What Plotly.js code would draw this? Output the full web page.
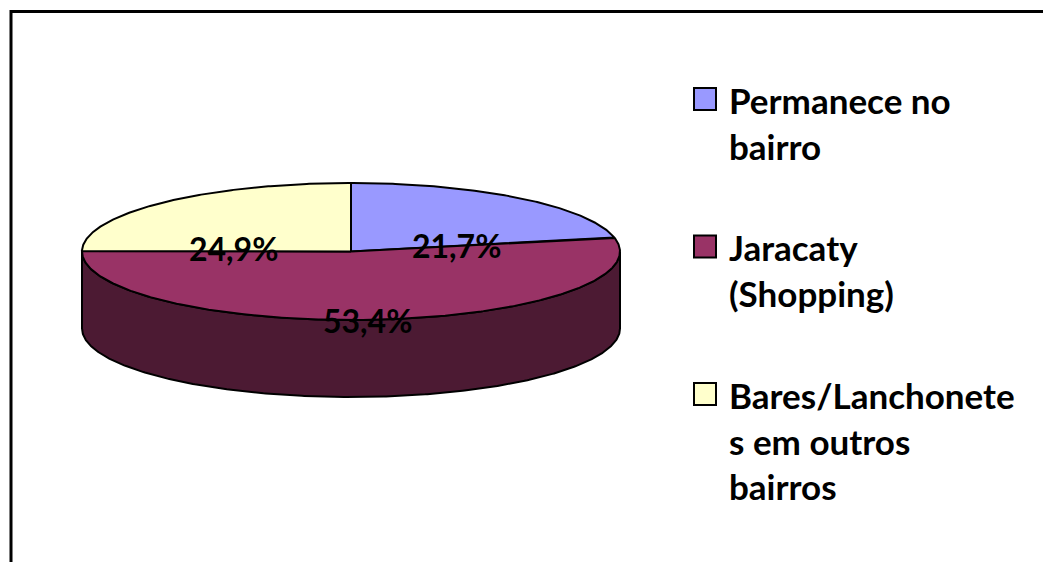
<!DOCTYPE html>
<html>
<head>
<meta charset="utf-8">
<script src="https://cdn.plot.ly/plotly-3.0.1.min.js"></script>
<style>html,body{margin:0;padding:0;background:#fff;}#chart{width:1043px;height:562px;}</style>
</head>
<body>
<div id="chart"></div>
<script>
// ---- data ----
const categories = ["Permanece no bairro", "Jaracaty (Shopping)", "Bares/Lanchonetes em outros bairros"];
const legendLabels = ["Permanece no<br>bairro", "Jaracaty<br>(Shopping)", "Bares/Lanchonete<br>s em outros<br>bairros"];
const percentages = [21.7, 53.4, 24.9];
const topColors = ["#9999FF", "#993366", "#FFFFCC"];
const sideColors = ["#4C4C80", "#4C1A33", "#7F7F66"];

// ---- geometry (styling) ----
const W = 1043, H = 562;
const CX = 351, CY = 251.5, A = 269, B = 68.5, DEPTH = 77;
const LINE = {color: "#000", width: 2};

function rim(tDeg, dz) {
  const t = tDeg * Math.PI / 180;
  return [CX + A * Math.sin(t), CY - B * Math.cos(t) + dz];
}
function arc(t1, t2, dz) {
  const pts = [];
  const n = Math.max(2, Math.ceil(Math.abs(t2 - t1) / 0.5));
  for (let i = 0; i <= n; i++) pts.push(rim(t1 + (t2 - t1) * i / n, dz));
  return pts;
}

const total = percentages.reduce((s, v) => s + v, 0);
const starts = [], ends = [];
let acc = 0;
percentages.forEach(v => { starts.push(acc / total * 360); acc += v; ends.push(acc / total * 360); });

const traces = [];
// side walls (front half only: 90..270 deg clockwise from top)
percentages.forEach((v, i) => {
  const s = Math.max(starts[i], 90), e = Math.min(ends[i], 270);
  if (e <= s) return;
  const top = arc(s, e, 0), bot = arc(e, s, DEPTH);
  const pts = top.concat(bot); pts.push(top[0]);
  traces.push({type: "scatter", mode: "lines", x: pts.map(p => p[0]), y: pts.map(p => p[1]),
    fill: "toself", fillcolor: sideColors[i], line: LINE, hoverinfo: "skip", showlegend: false});
});
// top faces
percentages.forEach((v, i) => {
  const pts = [[CX, CY]].concat(arc(starts[i], ends[i], 0)); pts.push([CX, CY]);
  traces.push({type: "scatter", mode: "lines", x: pts.map(p => p[0]), y: pts.map(p => p[1]),
    fill: "toself", fillcolor: topColors[i], line: LINE, hoverinfo: "text", text: categories[i], showlegend: false});
});
// legend markers
const LEG_X = 705, LEG_Y0 = 99, LEG_STEP = 147.5;
traces.push({type: "scatter", mode: "markers",
  x: categories.map(() => LEG_X), y: categories.map((c, i) => LEG_Y0 + i * LEG_STEP),
  marker: {symbol: "square", size: 22, color: topColors, line: {color: "#000", width: 2}},
  text: categories, hoverinfo: "text", showlegend: false});

const annotations = [];
// data labels
percentages.forEach((v, i) => {
  const mid = (starts[i] + ends[i]) / 2;
  const p = rim(mid, 0);
  const r = 0.62;
  annotations.push({x: CX + (p[0] - CX) * r, y: CY + (p[1] - CY) * r + 27, xref: "x", yref: "y",
    text: "<b>" + v.toFixed(1).replace(".", ",") + "%</b>", showarrow: false, xanchor: "center", yanchor: "middle",
    font: {family: "Lato", size: 32, color: "#000"}});
});
// legend texts
legendLabels.forEach((t, i) => {
  annotations.push({x: 727, y: LEG_Y0 - 22.5 + i * LEG_STEP, xref: "x", yref: "y", text: "<b>" + t.split("<br>").join("</b><br><b>") + "</b>", showarrow: false,
    xanchor: "left", yanchor: "top", align: "left",
    font: {family: "Lato", size: 35, color: "#000"}});
});

const layout = {
  width: W, height: H, margin: {l: 0, r: 0, t: 0, b: 0},
  paper_bgcolor: "#fff", plot_bgcolor: "#fff", showlegend: false,
  xaxis: {range: [0, W], visible: false, fixedrange: true},
  yaxis: {range: [H, 0], visible: false, fixedrange: true},
  shapes: [{type: "rect", xref: "x", yref: "y", x0: 11, y0: 11.5, x1: W + 50, y1: H + 50,
    line: {color: "#000", width: 3}, fillcolor: "rgba(0,0,0,0)", layer: "below"}],
  annotations: annotations
};
Plotly.newPlot("chart", traces, layout, {displayModeBar: false, staticPlot: true});
</script>
</body>
</html>
